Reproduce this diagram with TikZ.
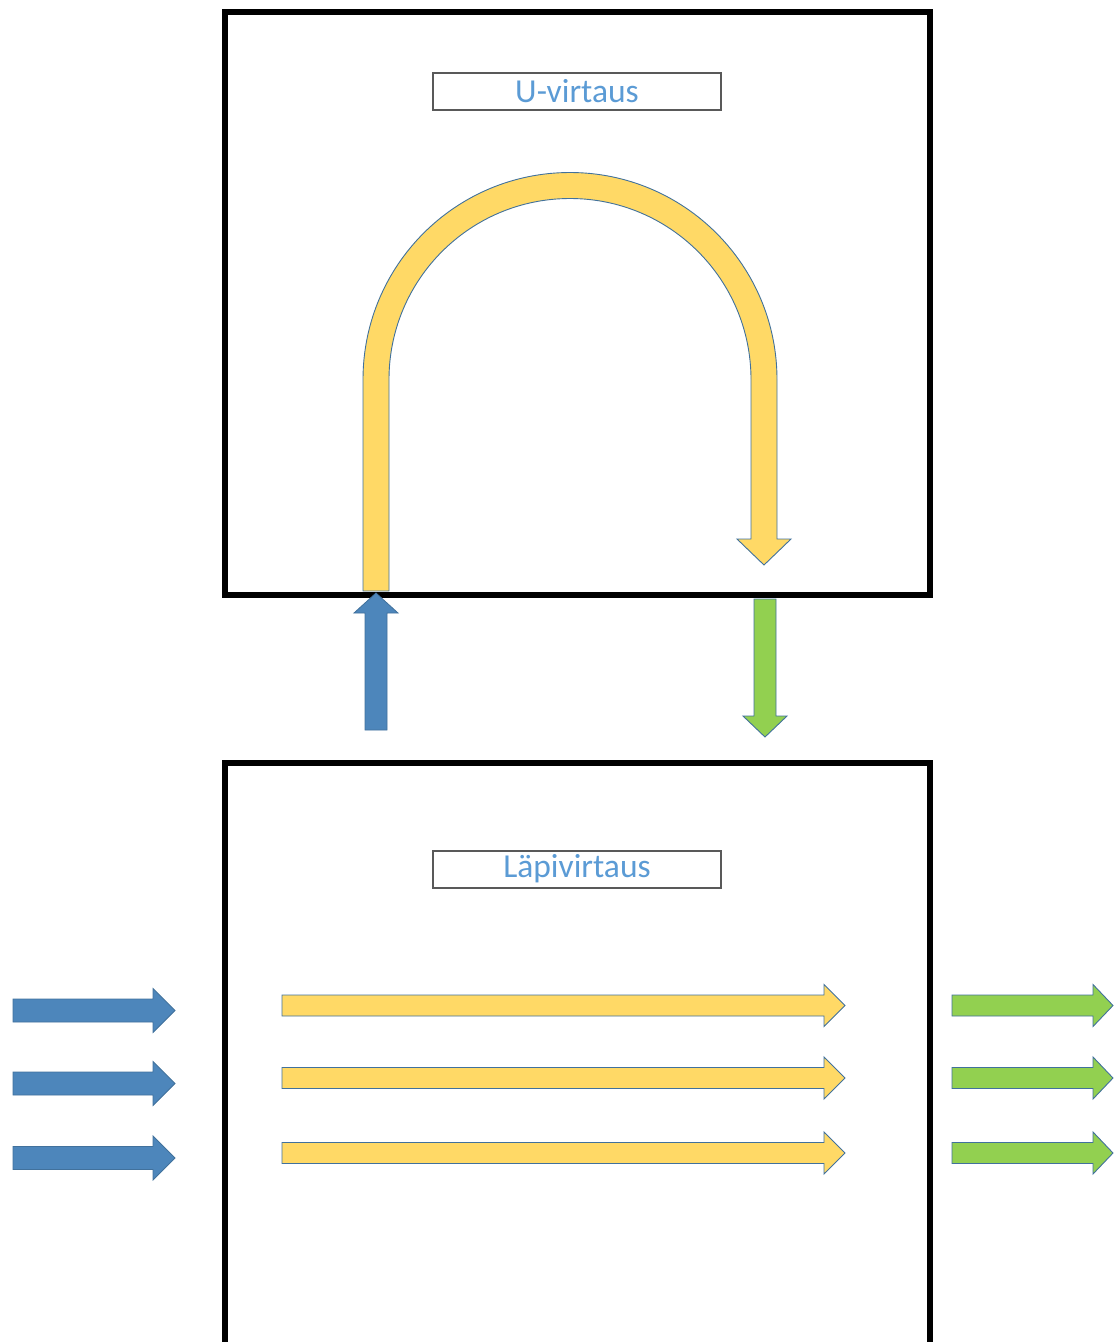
\documentclass[tikz,border=0pt]{standalone}
\usepackage{fontspec}
\setmainfont{Carlito}
\definecolor{boxblue}{RGB}{77,134,187}
\definecolor{flowyellow}{RGB}{255,217,102}
\definecolor{flowgreen}{RGB}{146,208,80}
\definecolor{edgeblue}{RGB}{65,113,156}
\definecolor{labeltext}{RGB}{91,155,213}
\definecolor{labelframe}{RGB}{89,89,89}
\newcommand\blockarrowH[7]{% style, x start, head base x, tip x, centre y (pixels), shaft half, head half
  \draw[#1] (#2,{-(#5)+#6}) -- (#3,{-(#5)+#6}) -- (#3,{-(#5)+#7}) -- (#4,{-(#5)})
    -- (#3,{-(#5)-#7}) -- (#3,{-(#5)-#6}) -- (#2,{-(#5)-#6}) -- cycle;}
\begin{document}
\begin{tikzpicture}[x=1pt,y=1pt,
  chamber/.style={draw=black,line width=6.5pt,line join=miter},
  labelbox/.style={draw=labelframe,line width=1.6pt,fill=white},
  labeltxt/.style={text=labeltext,font=\fontsize{33.5}{38}\selectfont,inner sep=0pt},
  bluearrow/.style={fill=boxblue,draw=edgeblue,line width=0.8pt,line join=miter},
  yellowarrow/.style={fill=flowyellow,draw=edgeblue,line width=0.9pt,line join=miter},
  greenarrow/.style={fill=flowgreen,draw=edgeblue,line width=0.9pt,line join=miter}]
\useasboundingbox (0,0) rectangle (1117,-1342);
\clip (0,0) rectangle (1117,-1342);
% top chamber (U-flow)
\draw[chamber] (225,-12) rectangle (930,-595);
% bottom chamber (through-flow)
\draw[chamber] (225,-763) rectangle (930,-1400);
% labels
\draw[labelbox] (433,-73) rectangle (721,-110);
\node[labeltxt] (ulabel) at (577,-91.5) {U-virtaus};
\draw[labelbox] (433,-851) rectangle (721,-888);
\node[labeltxt] (llabel) at (577,-869) {Läpivirtaus};
% U-shaped flow arrow
\draw[yellowarrow] (363,-591) -- (363,-379.5) arc[start angle=180,end angle=0,radius=207]
  -- (777,-539) -- (791,-539) -- (764,-565) -- (737,-539) -- (751,-539)
  -- (751,-379.5) arc[start angle=0,end angle=180,radius=181] -- (389,-591) -- cycle;
% inlet arrow (blue, up)
\draw[bluearrow] (365,-730) -- (365,-613) -- (354,-613) -- (376,-593) -- (398,-613)
  -- (387,-613) -- (387,-730) -- cycle;
% outlet arrow (green, down)
\draw[greenarrow] (754,-599) -- (754,-716) -- (743,-716) -- (765,-737) -- (787,-716)
  -- (776,-716) -- (776,-599) -- cycle;
% inflow arrows (blue)
\blockarrowH{bluearrow}{13}{153}{175}{1010.5}{11.5}{22}
\blockarrowH{bluearrow}{13}{153}{175}{1083.5}{11.5}{22}
\blockarrowH{bluearrow}{13}{153}{175}{1158}{11.5}{22}
% through-flow arrows (yellow)
\blockarrowH{yellowarrow}{282}{824}{845}{1005.5}{10.5}{21}
\blockarrowH{yellowarrow}{282}{824}{845}{1078}{10.5}{21}
\blockarrowH{yellowarrow}{282}{824}{845}{1153}{10.5}{21}
% outflow arrows (green)
\blockarrowH{greenarrow}{952}{1093}{1113}{1005.5}{10.5}{21}
\blockarrowH{greenarrow}{952}{1093}{1113}{1078}{10.5}{21}
\blockarrowH{greenarrow}{952}{1093}{1113}{1153}{10.5}{21}
\end{tikzpicture}
\end{document}
